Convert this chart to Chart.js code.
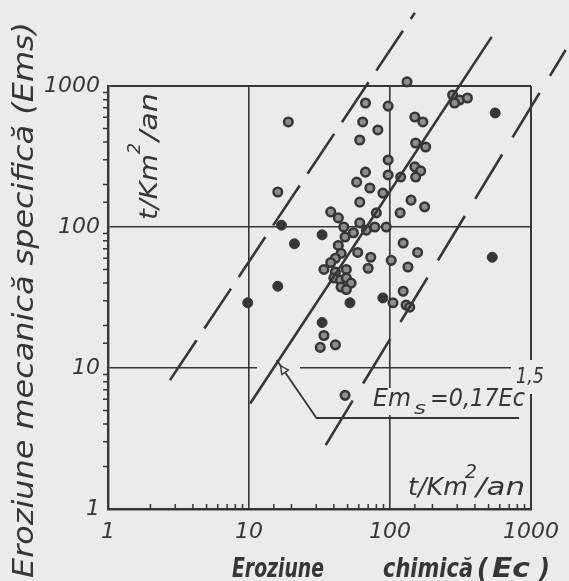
<!DOCTYPE html>
<html>
<head>
<meta charset="utf-8">
<script src="https://cdn.jsdelivr.net/npm/chart.js@4.4.0/dist/chart.umd.min.js"></script>
<style>
    html, body { margin: 0; padding: 0; background: #ebebeb; }
</style>
</head>
<body>
<canvas id="erosionChart" width="569" height="581"></canvas>
<script>
// Chart.js
const ctx = document.getElementById('erosionChart').getContext('2d');

const INK = '#363636';
const PAPER = '#ebebeb';
const FONT = '"DejaVu Sans", sans-serif';

// labelled decades on both log axes
const xTickLabels = [1, 10, 100, 1000];
const yTickLabels = [1, 10, 100, 1000];

// open circles: chemical erosion Ec / specific mechanical erosion Ems (t/km2/an)
const openEc = [150, 132, 67, 97, 64, 82, 61, 150, 171, 152, 179, 150, 165, 152, 97, 67, 58, 97, 72, 119,
    89, 61, 80, 141, 176, 118, 38, 43, 47, 61, 68, 78, 94, 55, 48, 43, 59, 73, 45, 41,
    38, 34, 70, 49, 41, 40, 44.5, 49, 53, 45, 49, 124, 157, 102, 134, 124, 105, 130, 138, 34,
    32, 41, 16, 19, 278, 311, 354, 287, 48];
const openEm = [1200, 1070, 757, 720, 556, 488, 414, 603, 556, 394, 369, 267, 250, 226, 299, 245, 208, 234, 189, 226,
    174, 150, 126, 155, 139, 126, 128, 116, 100, 107, 95, 100, 100, 91, 85, 74, 66, 61, 65, 60,
    56, 50, 51, 50, 48, 43.5, 42, 43.5, 40, 37.5, 36, 77, 66, 58, 52, 35, 29, 28, 27, 17,
    14, 14.6, 177, 556, 863, 796, 822, 757, 6.4];

// full dots
const fullEc = [625, 557, 531, 17, 21, 16, 9.8, 89, 33, 52, 33];
const fullEm = [1216, 644, 61, 103, 76, 38, 29, 31.4, 88, 29, 21];

// regression line Ems = 0,17 Ec^1,5 and the two envelope lines (end points)
const mainLineEc = [10.2, 526];
const mainLineEm = [5.6, 2230];
const upperLineEc = [2.75, 150];
const upperLineEm = [8.2, 3300];
const lowerLineEc = [35, 1760];
const lowerLineEm = [2.84, 1800];

// leader from the regression line to the equation
const leaderEc = [15.7, 30.1, 823];
const leaderEm = [11.4, 4.42, 4.42];

function pairs(xs, ys) {
    return xs.map((x, i) => ({ x: x, y: ys[i] }));
}

function isMajor(v, list) {
    return list.some(t => Math.abs(t - v) < 1e-6 * t);
}

function fitText(c, text, x, y, width) {
    const w = c.measureText(text).width;
    c.save();
    c.translate(x, y);
    c.scale(width / w, 1);
    c.fillText(text, 0, 0);
    c.restore();
}

const paperPlugin = {
    id: 'paper',
    beforeDraw(chart) {
        const c = chart.ctx;
        c.save();
        c.fillStyle = PAPER;
        c.fillRect(0, 0, chart.width, chart.height);
        c.restore();
    },
    beforeDatasetsDraw(chart) {
        const c = chart.ctx;
        const xs = chart.scales.x, ys = chart.scales.y;
        const area = chart.chartArea;
        c.save();
        // gaps in the grid under the labels
        c.fillStyle = PAPER;
        c.fillRect(511, 360, 40, 34);
        c.fillRect(370, 388, 158, 27);
        c.fillRect(257, 363, 43, 8);
        // minor ticks
        c.strokeStyle = INK;
        c.lineWidth = 1.5;
        c.beginPath();
        xs.ticks.forEach(t => {
            if (isMajor(t.value, xTickLabels)) return;
            const px = xs.getPixelForValue(t.value);
            c.moveTo(px, area.bottom);
            c.lineTo(px, area.bottom - 5);
        });
        ys.ticks.forEach(t => {
            if (isMajor(t.value, yTickLabels)) return;
            const py = ys.getPixelForValue(t.value);
            c.moveTo(area.left, py);
            c.lineTo(area.left - 5, py);
        });
        c.stroke();
        c.restore();
    }
};

const labelPlugin = {
    id: 'labels',
    afterDatasetsDraw(chart) {
        const c = chart.ctx;
        const xs = chart.scales.x, ys = chart.scales.y;
        c.save();
        c.strokeStyle = INK;
        c.fillStyle = INK;

        // leader line
        const pts = leaderEc.map((e, i) => [xs.getPixelForValue(e), ys.getPixelForValue(leaderEm[i])]);
        c.lineWidth = 1.8;
        c.beginPath();
        c.moveTo(pts[0][0], pts[0][1]);
        for (let i = 1; i < pts.length; i++) c.lineTo(pts[i][0], pts[i][1]);
        c.stroke();
        // small arrow head on the leader
        const dx = pts[1][0] - pts[0][0], dy = pts[1][1] - pts[0][1];
        const len = Math.hypot(dx, dy);
        const ux = dx / len, uy = dy / len;
        const ax = pts[0][0] + ux * 12, ay = pts[0][1] + uy * 12;
        c.beginPath();
        c.moveTo(ax - ux * 5, ay - uy * 5);
        c.lineTo(ax + ux * 3 - uy * 4, ay + uy * 3 + ux * 4);
        c.lineTo(ax + ux * 3 + uy * 4, ay + uy * 3 - ux * 4);
        c.closePath();
        c.fillStyle = PAPER;
        c.fill();
        c.lineWidth = 1.4;
        c.stroke();
        c.fillStyle = INK;

        c.textAlign = 'left';
        c.textBaseline = 'alphabetic';

        // exponent and equation
        c.font = `italic 22px ${FONT}`;
        fitText(c, '1,5', 516, 383, 28);
        c.font = `italic 25px ${FONT}`;
        fitText(c, 'Em', 373, 406, 38);
        c.font = `italic 17px ${FONT}`;
        fitText(c, 's', 414, 414, 12);
        c.font = `italic 25px ${FONT}`;
        fitText(c, '=0,17Ec', 430, 406, 95);

        // unit, bottom right
        c.font = `italic 25px ${FONT}`;
        fitText(c, 't/Km', 408, 495, 60);
        c.font = `italic 19px ${FONT}`;
        fitText(c, '2', 465, 478, 12);
        c.font = `italic 25px ${FONT}`;
        fitText(c, '/an', 476, 495, 49);

        // unit, rotated, top left
        c.translate(157, 220);
        c.rotate(-Math.PI / 2);
        c.font = `italic 25px ${FONT}`;
        fitText(c, 't/Km', 0, 0, 66);
        c.font = `italic 17px ${FONT}`;
        fitText(c, '2', 66, -17, 11);
        c.font = `italic 25px ${FONT}`;
        fitText(c, '/an', 79, 0, 48);
        c.restore();
    },
    afterDraw(chart) {
        const c = chart.ctx;
        c.save();
        c.fillStyle = INK;
        c.textAlign = 'left';
        c.textBaseline = 'alphabetic';

        // axis titles
        c.font = `italic bold 26px ${FONT}`;
        fitText(c, 'Eroziune', 232, 577, 92);
        fitText(c, 'chimică', 383, 577, 90);
        fitText(c, '(', 477, 577, 11);
        fitText(c, 'Ec', 492, 577, 38);
        fitText(c, ')', 539, 577, 11);

        c.translate(33, 578);
        c.rotate(-Math.PI / 2);
        c.font = `italic 28px ${FONT}`;
        fitText(c, 'Eroziune mecanică specifică (Ems)', 0, 0, 556);
        c.restore();
    }
};

function gridColor(c) {
    if (!c.tick) return 'transparent';
    return isMajor(c.tick.value, xTickLabels) ? INK : 'transparent';
}

function gridWidth(c) {
    if (!c.tick) return 1;
    return (c.tick.value === 1 || c.tick.value === 1000) ? 2 : 1.6;
}

const tickFont = { family: FONT, size: 22, style: 'italic' };

const erosionChart = new Chart(ctx, {
    type: 'scatter',
    data: {
        datasets: [
            {
                label: 'Ems = 0,17 Ec^1,5',
                data: pairs(mainLineEc, mainLineEm),
                showLine: true,
                borderColor: INK,
                borderWidth: 2.6,
                pointRadius: 0,
                clip: false
            },
            {
                label: 'upper envelope',
                data: pairs(upperLineEc, upperLineEm),
                showLine: true,
                borderColor: INK,
                borderWidth: 2.6,
                borderDash: [48, 14],
                pointRadius: 0,
                clip: false
            },
            {
                label: 'lower envelope',
                data: pairs(lowerLineEc, lowerLineEm),
                showLine: true,
                borderColor: INK,
                borderWidth: 2.6,
                borderDash: [52, 20],
                pointRadius: 0,
                clip: false
            },
            {
                label: 'open',
                data: pairs(openEc, openEm),
                pointRadius: 4.3,
                pointBorderWidth: 2.5,
                pointBackgroundColor: '#8e8e8e',
                pointBorderColor: INK,
                clip: false
            },
            {
                label: 'full',
                data: pairs(fullEc, fullEm),
                pointRadius: 5,
                pointBorderWidth: 1,
                pointBackgroundColor: INK,
                pointBorderColor: INK,
                clip: false
            }
        ]
    },
    options: {
        responsive: false,
        animation: false,
        layout: { padding: { left: 38, right: 35, top: 86, bottom: 36 } },
        plugins: {
            legend: { display: false },
            tooltip: { enabled: false }
        },
        scales: {
            x: {
                type: 'logarithmic',
                min: 1,
                max: 1000,
                afterFit: (s) => { s.height = 36; },
                border: { display: true, color: INK, width: 2.6 },
                grid: { drawTicks: false, color: gridColor, lineWidth: gridWidth },
                ticks: {
                    autoSkip: false,
                    maxRotation: 0,
                    padding: 10,
                    color: INK,
                    font: tickFont,
                    callback: (v) => isMajor(v, xTickLabels) ? String(Math.round(v)) : ''
                }
            },
            y: {
                type: 'logarithmic',
                min: 1,
                max: 1000,
                afterFit: (s) => { s.width = 70; },
                border: { display: true, color: INK, width: 2.4 },
                grid: { drawTicks: false, color: gridColor, lineWidth: gridWidth },
                ticks: {
                    autoSkip: false,
                    padding: 8,
                    color: INK,
                    font: tickFont,
                    callback: (v) => isMajor(v, yTickLabels) ? String(Math.round(v)) : ''
                }
            }
        }
    },
    plugins: [paperPlugin, labelPlugin]
});
</script>
</body>
</html>
